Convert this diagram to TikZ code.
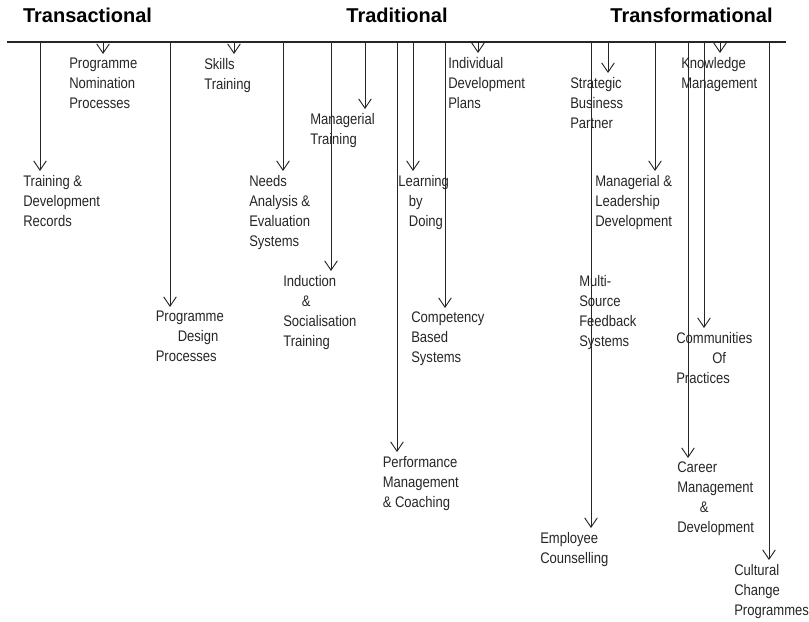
\documentclass[tikz,border=0pt]{standalone}
\usepackage{fontspec}
\setmainfont{Liberation Sans}
\newfontfamily\narrowfont{Liberation Sans}[FakeStretch=0.85]
\usetikzlibrary{arrows.meta}

\begin{document}
\begin{tikzpicture}[x=0.75pt, y=-0.75pt,
  lbl/.style={anchor=north west, align=left, inner xsep=0pt, inner ysep=3pt,
    text=black!85, font=\narrowfont\fontsize{11.5}{15}\selectfont},
  head/.style={anchor=base, inner sep=0pt, font=\bfseries\fontsize{15}{18}\selectfont},
  arr/.style={draw=black!85, line width=0.7pt, -{Straight Barb[length=7pt,width=9.5pt]}}]
\useasboundingbox (0,0) rectangle (809,621);

% Headings over the time line
\node[head] (hd1) at (87.5,22.5) {Transactional};
\node[head] (hd2) at (397,22.5) {Traditional};
\node[head] (hd3) at (691.5,22.5) {Transformational};

% Time line
\coordinate (lft) at (7,42);
\coordinate (rgt) at (786,42);
\draw[black!85, line width=0.8pt] (lft) -- (rgt);

% Transactional activities
\node[lbl] (rec) at (23,171) {Training \&\\Development\\Records};
\node[lbl] (nom) at (69,54) {Programme\\Nomination\\Processes};
\node[lbl] (des) at (155.5,307) {Programme\\\hspace*{16.5pt}Design\\Processes};
\node[lbl] (ski) at (204,54) {Skills\\Training};

% Traditional activities
\node[lbl] (nee) at (249,171) {Needs\\Analysis \&\\Evaluation\\Systems};
\node[lbl] (ind) at (283,271) {Induction\\\hspace*{14pt}\&\\Socialisation\\Training};
\node[lbl] (man) at (310,109) {Managerial\\Training};
\node[lbl] (per) at (382.5,452) {Performance\\Management\\\& Coaching};
\node[lbl] (lea) at (398,171) {Learning\\\hspace*{8pt}by\\\hspace*{8pt}Doing};
\node[lbl] (cmp) at (411,308) {Competency\\Based\\Systems};
\node[lbl] (idp) at (448,53) {Individual\\Development\\Plans};

% Transformational activities
\node[lbl] (emp) at (540,528) {Employee\\Counselling};
\node[lbl] (msf) at (579,271) {Multi-\\Source\\Feedback\\Systems};
\node[lbl] (sbp) at (570,73) {Strategic\\Business\\Partner};
\node[lbl] (mld) at (595,171) {Managerial \&\\Leadership\\Development};
\node[lbl] (car) at (677,458) {Career\\Management\\\hspace*{17pt}\&\\Development};
\node[lbl] (cop) at (676,328) {Communities\\\hspace*{27pt}Of\\Practices};
\node[lbl] (kno) at (681,53) {Knowledge\\Management};
\node[lbl] (cul) at (734,560) {Cultural\\Change\\Programmes};

% Drop points on the time line
\coordinate (t-rec) at (40,42);
\coordinate (t-nom) at (103,42);
\coordinate (t-des) at (170,42);
\coordinate (t-ski) at (234,42);
\coordinate (t-nee) at (283,42);
\coordinate (t-ind) at (331,42);
\coordinate (t-man) at (365,42);
\coordinate (t-per) at (397,42);
\coordinate (t-lea) at (413,42);
\coordinate (t-cmp) at (445,42);
\coordinate (t-idp) at (478,42);
\coordinate (t-emp) at (591,42);
\coordinate (t-sbp) at (608,42);
\coordinate (t-mld) at (655,42);
\coordinate (t-car) at (688,42);
\coordinate (t-cop) at (704,42);
\coordinate (t-kno) at (720,42);
\coordinate (t-cul) at (769,42);

% Arrows down to the activities
\draw[arr] (t-rec) -- (t-rec |- rec.north);
\draw[arr] (t-nom) -- (t-nom |- nom.north);
\draw[arr] (t-des) -- (t-des |- des.north);
\draw[arr] (t-ski) -- (t-ski |- ski.north);
\draw[arr] (t-nee) -- (t-nee |- nee.north);
\draw[arr] (t-ind) -- (t-ind |- ind.north);
\draw[arr] (t-man) -- (t-man |- man.north);
\draw[arr] (t-per) -- (t-per |- per.north);
\draw[arr] (t-lea) -- (t-lea |- lea.north);
\draw[arr] (t-cmp) -- (t-cmp |- cmp.north);
\draw[arr] (t-idp) -- (t-idp |- idp.north);
\draw[arr] (t-emp) -- (t-emp |- emp.north);
\draw[arr] (t-sbp) -- (t-sbp |- sbp.north);
\draw[arr] (t-mld) -- (t-mld |- mld.north);
\draw[arr] (t-car) -- (t-car |- car.north);
\draw[arr] (t-cop) -- (t-cop |- cop.north);
\draw[arr] (t-kno) -- (t-kno |- kno.north);
\draw[arr] (t-cul) -- (t-cul |- cul.north);
\end{tikzpicture}
\end{document}
